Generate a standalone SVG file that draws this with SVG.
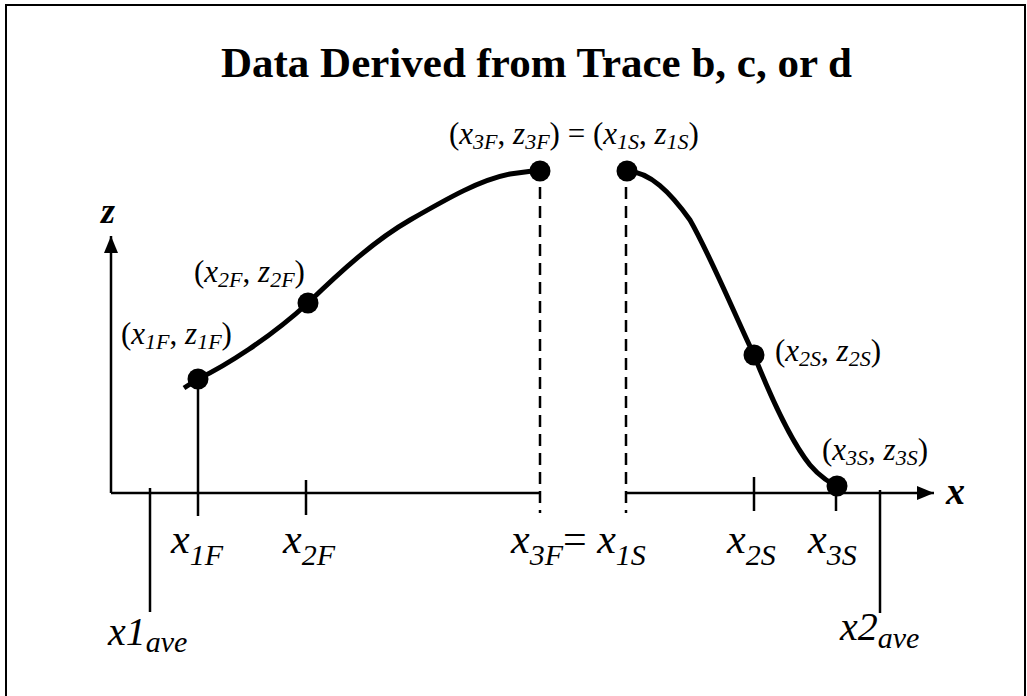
<svg xmlns="http://www.w3.org/2000/svg" width="1027" height="696" viewBox="0 0 1027 696">
<style>
.ax{stroke:#000;stroke-width:2.5;fill:none}
.dash{stroke:#000;stroke-width:2.5;fill:none;stroke-dasharray:12 7}
.crv{stroke:#000;stroke-width:5;fill:none;stroke-linejoin:round}
.dot{fill:#000}
.t{font-family:"Liberation Serif","Times New Roman",serif;fill:#000}
.pl{font-size:31px}
.bl{font-size:42px}
.av{font-size:40px}
.i{font-style:italic}
.sp{font-size:22px;font-style:italic}
.sb{font-size:30px;font-style:italic}
</style>
<defs>
<marker id="ah" markerWidth="17" markerHeight="14" refX="17" refY="7" orient="auto" markerUnits="userSpaceOnUse">
<path d="M0,0 L17,7 L0,14 Z" fill="#000"/>
</marker>
</defs>
<rect x="0" y="0" width="1027" height="696" fill="#fff"/>
<rect x="6" y="5" width="1019" height="720" fill="none" stroke="#000" stroke-width="2"/>
<text class="t" x="221" y="77" font-size="43" font-weight="bold">Data Derived from Trace b, c, or d</text>

<g id="axes">
<path class="ax" d="M111,493 L111,236" marker-end="url(#ah)"/>
<path class="ax" d="M111,493 L540,493"/>
<path class="ax" d="M626,493 L934,493" marker-end="url(#ah)"/>
<text class="t" x="101" y="223" font-size="36" font-weight="bold" font-style="italic">z</text>
<text class="t" x="946" y="504" font-size="38" font-weight="bold" font-style="italic">x</text>
</g>

<g id="connectors">
<path class="ax" d="M198,380 L198,516"/>
<path class="ax" d="M306,480 L306,515"/>
<path class="ax" d="M754,477 L754,511"/>
<path class="ax" d="M836,492 L836,511"/>
<path class="ax" d="M150,488 L150,612"/>
<path class="ax" d="M880,490 L880,613"/>
<path class="dash" d="M540,187 L540,513"/>
<path class="dash" d="M626,187 L626,513"/>
</g>

<g id="curves">
<path class="crv" d="M184,388 L198,379 C225,366 270,338 308,303 C340,272 375,240 410,220 C450,197 480,180 510,174 L540,170"/>
<path class="crv" d="M627,171 C650,172 670,192 690,220 C710,255 735,315 754,355 C770,395 790,440 810,465 C820,477 830,484 845,490"/>
</g>

<g id="p1F"><circle class="dot" cx="198" cy="379" r="10.5"/>
<text class="t pl" x="121" y="344">(<tspan class="i">x</tspan><tspan class="sp" dy="5">1F</tspan><tspan dy="-5">, </tspan><tspan class="i">z</tspan><tspan class="sp" dy="5">1F</tspan><tspan dy="-5">)</tspan></text></g>
<g id="p2F"><circle class="dot" cx="308" cy="303" r="10.5"/>
<text class="t pl" x="194" y="282">(<tspan class="i">x</tspan><tspan class="sp" dy="5">2F</tspan><tspan dy="-5">, </tspan><tspan class="i">z</tspan><tspan class="sp" dy="5">2F</tspan><tspan dy="-5">)</tspan></text></g>
<g id="p3F"><circle class="dot" cx="540" cy="171" r="10.5"/></g>
<g id="p1S"><circle class="dot" cx="627" cy="171" r="10.5"/></g>
<g id="p3F1S">
<text class="t pl" x="449" y="144">(<tspan class="i">x</tspan><tspan class="sp" dy="5">3F</tspan><tspan dy="-5">, </tspan><tspan class="i">z</tspan><tspan class="sp" dy="5">3F</tspan><tspan dy="-5">) = (</tspan><tspan class="i">x</tspan><tspan class="sp" dy="5">1S</tspan><tspan dy="-5">, </tspan><tspan class="i">z</tspan><tspan class="sp" dy="5">1S</tspan><tspan dy="-5">)</tspan></text></g>
<g id="p2S"><circle class="dot" cx="754" cy="355" r="10.5"/>
<text class="t pl" x="775" y="361">(<tspan class="i">x</tspan><tspan class="sp" dy="5">2S</tspan><tspan dy="-5">, </tspan><tspan class="i">z</tspan><tspan class="sp" dy="5">2S</tspan><tspan dy="-5">)</tspan></text></g>
<g id="p3S"><circle class="dot" cx="837" cy="486" r="10.5"/>
<text class="t pl" x="822" y="460">(<tspan class="i">x</tspan><tspan class="sp" dy="5">3S</tspan><tspan dy="-5">, </tspan><tspan class="i">z</tspan><tspan class="sp" dy="5">3S</tspan><tspan dy="-5">)</tspan></text></g>

<g id="xlabels">
<text class="t bl" x="171" y="553"><tspan class="i">x</tspan><tspan class="sb" dy="12">1F</tspan></text>
<text class="t bl" x="283" y="553"><tspan class="i">x</tspan><tspan class="sb" dy="12">2F</tspan></text>
<text class="t bl" x="511" y="553"><tspan class="i">x</tspan><tspan class="sb" dy="12">3F</tspan><tspan dy="-12">= </tspan><tspan class="i">x</tspan><tspan class="sb" dy="12">1S</tspan></text>
<text class="t bl" x="727" y="553"><tspan class="i">x</tspan><tspan class="sb" dy="12">2S</tspan></text>
<text class="t bl" x="808" y="553"><tspan class="i">x</tspan><tspan class="sb" dy="12">3S</tspan></text>
<text class="t av i" x="108" y="645">x1<tspan class="sb" dy="7">ave</tspan></text>
<text class="t av i" x="840" y="640">x2<tspan class="sb" dy="8">ave</tspan></text>
</g>
</svg>
